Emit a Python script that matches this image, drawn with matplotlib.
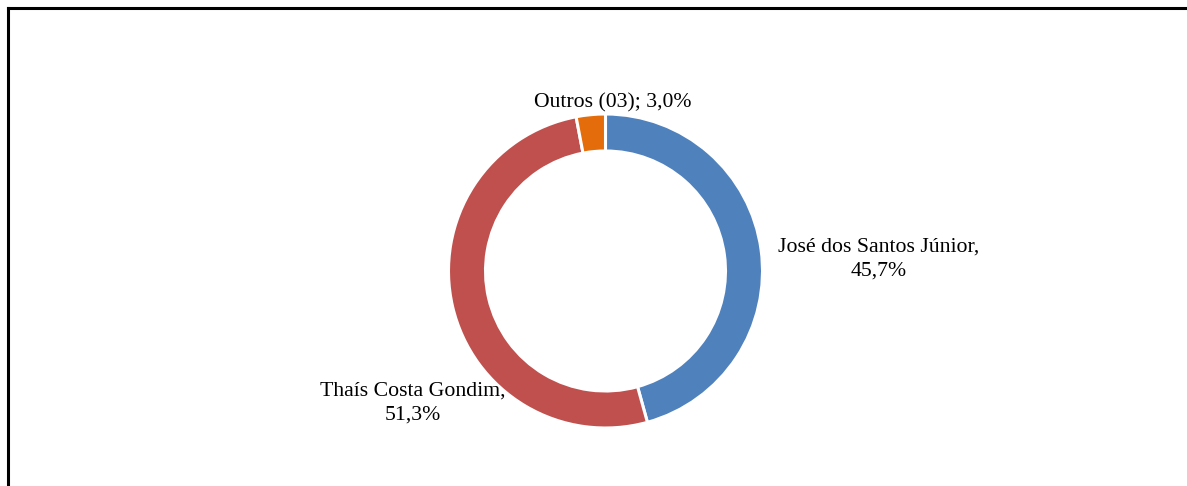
import matplotlib.pyplot as plt
from matplotlib.lines import Line2D

labels = ['José dos Santos Júnior', 'Thaís Costa Gondim', 'Outros (03)']
values = [45.7, 51.3, 3.0]
colors = ['#4F81BD', '#C0504D', '#E46C0A']

plt.rcParams['font.family'] = ['Liberation Serif', 'DejaVu Serif']

W, H = 1187, 486
fig = plt.figure(figsize=(W / 100, H / 100), dpi=100)
ax = fig.add_axes([0, 0, 1, 1])

cx, cy, r = 605.5, H - 271, 157
ax.pie(values, colors=colors, startangle=90, counterclock=False,
       center=(cx, cy), radius=r,
       wedgeprops={'width': 37, 'edgecolor': 'white', 'linewidth': 2.2})
ax.set_xlim(0, W)
ax.set_ylim(0, H)
ax.set_aspect('equal')
ax.axis('off')

def fmt(v):
    return f'{v:.1f}'.replace('.', ',') + '%'

fs = 15.7
ax.text(879, H - 259, f'{labels[0]},\n{fmt(values[0])}', ha='center', va='center',
        fontsize=fs, linespacing=1.38)
ax.text(413, H - 403, f'{labels[1]},\n{fmt(values[1])}', ha='center', va='center',
        fontsize=fs, linespacing=1.38)
ax.text(613, H - 103, f'{labels[2]}; {fmt(values[2])}', ha='center', va='center',
        fontsize=fs)

# outer frame (top and left edges visible)
fig.add_artist(Line2D([8 / W, 1], [1 - 8 / H, 1 - 8 / H], color='black', lw=2.2,
                      transform=fig.transFigure))
fig.add_artist(Line2D([8 / W, 8 / W], [0, 1 - 8 / H], color='black', lw=2.2,
                      transform=fig.transFigure))

fig.savefig('out.png', dpi=100)
